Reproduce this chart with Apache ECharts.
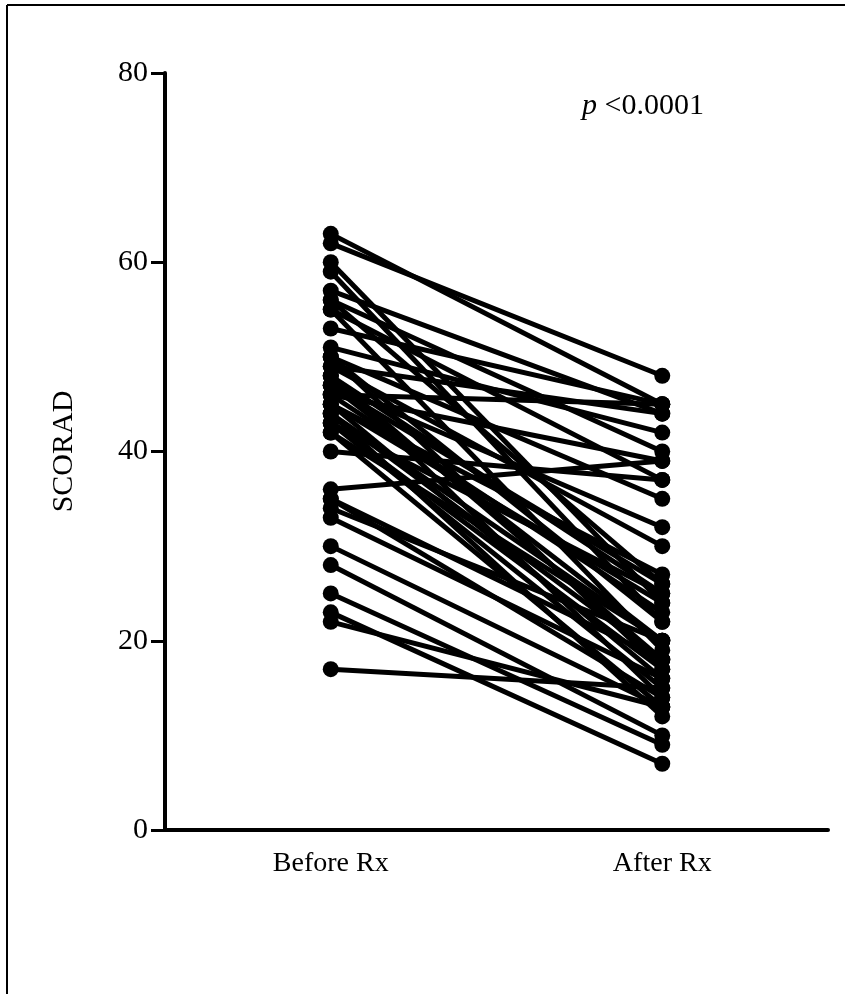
<!DOCTYPE html>
<html><head><meta charset="utf-8">
<script src="https://cdn.jsdelivr.net/npm/echarts@6/dist/echarts.min.js"></script>
<style>html,body{margin:0;padding:0;background:#fff}#c{width:845px;height:994px}</style>
</head><body><div id="c"></div>
<script>
const categories = ['Before Rx', 'After Rx'];
const beforeRx = [63,62,60,59,57,56,56,55,55,53,51,50,50,49,49,48,48,47,47,46,46,45,45,46,44,44,43,43,42,42,40,36,35,35,34,33,30,28,25,23,22,17,50,48,45,44,47,43];
const afterRx  = [45,48,24,22,44,26,40,19,37,45,42,35,17,30,44,25,14,32,20,39,23,27,16,45,18,12,25,15,20,13,37,39,18,14,20,16,13,10,9,7,13,15,22,18,24,20,26,17];
const yTicks = [0,20,40,60,80];
const pText = ['p', ' <0.0001'];

const font = '"Liberation Serif", "Times New Roman", serif';
const chart = echarts.init(document.getElementById('c'));
const series = beforeRx.map((b, i) => ({
  type: 'line', data: [b, afterRx[i]], symbol: 'circle', symbolSize: 16,
  lineStyle: { color: '#000', width: 5 }, itemStyle: { color: '#000' },
  silent: true, animation: false
}));
chart.setOption({
  backgroundColor: '#fff',
  animation: false,
  grid: { left: 165, right: 17, top: 73, bottom: 164, containLabel: false },
  xAxis: {
    type: 'category', data: categories, boundaryGap: true,
    axisLine: { lineStyle: { color: '#000', width: 4 } },
    axisTick: { alignWithLabel: true, length: 12, lineStyle: { color: '#000', width: 4 } },
    axisLabel: { color: '#000', fontFamily: font, fontSize: 28, margin: 20 }
  },
  yAxis: {
    type: 'value', min: yTicks[0], max: yTicks[yTicks.length - 1], interval: 20,
    name: 'SCORAD', nameLocation: 'middle', nameGap: 86, nameRotate: 90,
    nameTextStyle: { color: '#000', fontFamily: font, fontSize: 30 },
    axisLine: { show: true, lineStyle: { color: '#000', width: 4 } },
    axisTick: { show: true, length: 14, lineStyle: { color: '#000', width: 3 } },
    axisLabel: { color: '#000', fontFamily: font, fontSize: 30, margin: 17 },
    splitLine: { show: false }
  },
  graphic: [
    { type: 'line', shape: { x1: 7, y1: 5, x2: 845, y2: 5 }, style: { stroke: '#000', lineWidth: 2 } },
    { type: 'line', shape: { x1: 7, y1: 5, x2: 7, y2: 994 }, style: { stroke: '#000', lineWidth: 2 } },
    { type: 'text', left: 582, top: 91, style: {
        text: '{i|' + pText[0] + '}{n|' + pText[1] + '}',
        rich: { i: { fontFamily: font, fontSize: 30, fontStyle: 'italic', fill: '#000' },
                n: { fontFamily: font, fontSize: 30, fill: '#000' } } } }
  ],
  series: series
});
</script></body></html>
